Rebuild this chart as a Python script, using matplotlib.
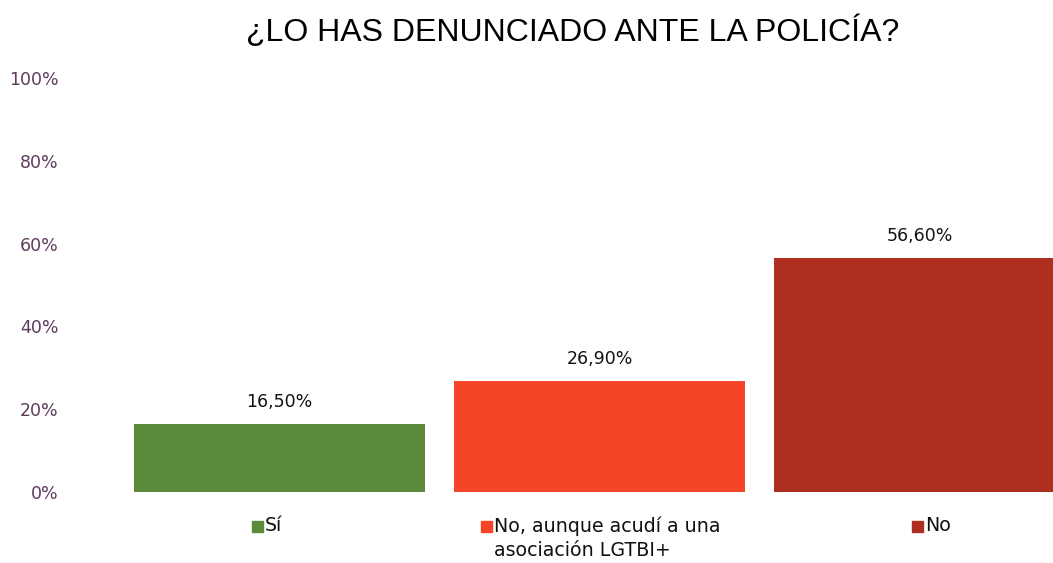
import matplotlib
matplotlib.use("Agg")
import matplotlib.pyplot as plt
from matplotlib.patches import Rectangle

categories = ["Sí", "No, aunque acudí a una\nasociación LGTBI+", "No"]
values = [16.5, 26.9, 56.6]
value_labels = ["16,50%", "26,90%", "56,60%"]
yticks = [0, 20, 40, 60, 80, 100]
ytick_labels = ["0%", "20%", "40%", "60%", "80%", "100%"]
colors = ["#5B8A3A", "#F44528", "#AE2F1F"]
title = "¿LO HAS DENUNCIADO ANTE LA POLICÍA?"

W, H = 1053, 563
fig = plt.figure(figsize=(W / 100, H / 100), dpi=100)

# axes in pixel coords
left, right, top, bottom = 119.5, 1079.5, 78, 492
ax = fig.add_axes([left / W, 1 - bottom / H, (right - left) / W, (bottom - top) / H])
ax.set_xlim(-0.5, 2.5)
ax.set_ylim(0, 100)
x = list(range(len(values)))
bars = ax.bar(x, values, width=0.91, color=colors)
for s in ax.spines.values():
    s.set_visible(False)
ax.set_xticks([])
ax.set_yticks(yticks)
ax.set_yticklabels(ytick_labels, color="#5E3A5C", fontsize=12.5)
ax.tick_params(axis="y", length=0, pad=44)

for xi, v, lab in zip(x, values, value_labels):
    ax.annotate(lab, (xi, v), xytext=(0, 9), textcoords="offset points",
                ha="center", va="bottom", fontsize=12.5, color="#111111")

fig.text(573 / W, 1 - 32 / H, title, ha="center", va="center",
         fontsize=23, fontfamily="Liberation Sans", color="#000000")

# legend entries under each category
leg_pos = [(252, 527), (481, 527), (912, 527)]
for (px, py), lab, c in zip(leg_pos, categories, colors):
    fig.patches.append(Rectangle((px / W, 1 - (py + 5) / H), 11 / W, 11 / H,
                                 transform=fig.transFigure, color=c, figure=fig))
    fig.text((px + 13) / W, 1 - (py - 11) / H, lab, ha="left", va="top",
             fontsize=13.7, color="#111111", linespacing=1.35)

fig.savefig("out.png", dpi=100)
